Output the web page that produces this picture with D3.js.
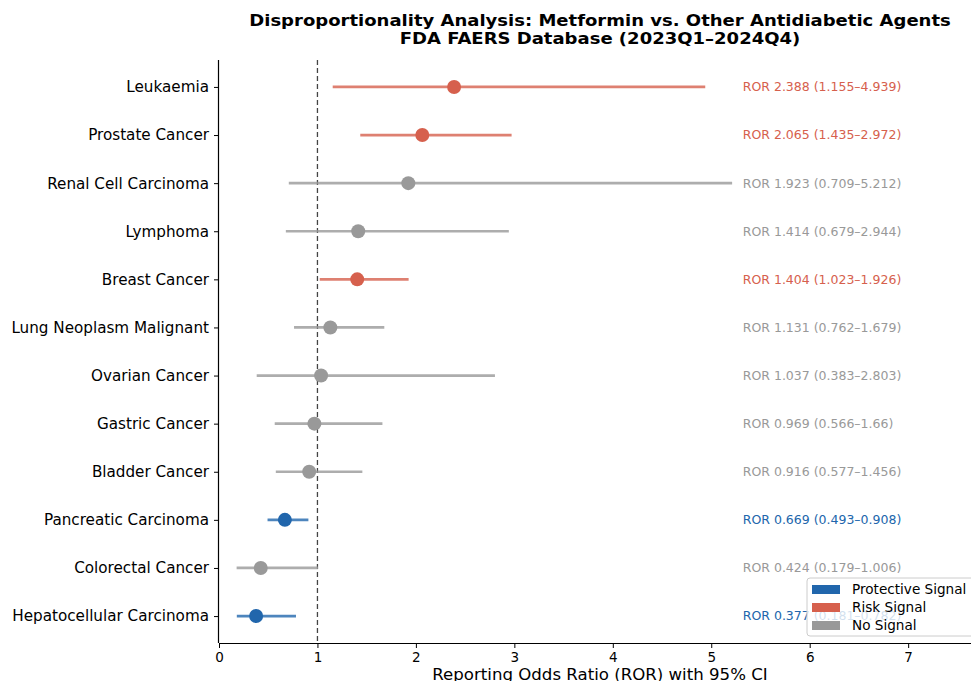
<!DOCTYPE html>
<html><head><meta charset="utf-8">
<script src="https://cdn.jsdelivr.net/npm/d3@7"></script>
<style>body{margin:0;background:#fff}svg{display:block;font-family:"DejaVu Sans",sans-serif}</style>
</head><body>
<svg id="c" width="971" height="681"></svg>
<script>
const categories = ["Leukaemia","Prostate Cancer","Renal Cell Carcinoma","Lymphoma","Breast Cancer","Lung Neoplasm Malignant","Ovarian Cancer","Gastric Cancer","Bladder Cancer","Pancreatic Carcinoma","Colorectal Cancer","Hepatocellular Carcinoma"];
const ror   = [2.388,2.065,1.923,1.414,1.404,1.131,1.037,0.969,0.916,0.669,0.424,0.377];
const lower = [1.155,1.435,0.709,0.679,1.023,0.762,0.383,0.566,0.577,0.493,0.179,0.181];
const upper = [4.939,2.972,5.212,2.944,1.926,1.679,2.803,1.66,1.456,0.908,1.006,0.782];
const upperLabels = ["4.939","2.972","5.212","2.944","1.926","1.679","2.803","1.66","1.456","0.908","1.006","0.782"];
const xTicks = [0,1,2,3,4,5,6,7];
const legendLabels = ["Protective Signal","Risk Signal","No Signal"];

const colors = {"Protective Signal":"#2166ac","Risk Signal":"#d6604d","No Signal":"#999999"};
function signal(i){ if(lower[i]>1) return "Risk Signal"; if(upper[i]<1) return "Protective Signal"; return "No Signal"; }

const svg = d3.select("#c");
const L=219, R=981, T=60, B=643;
const x = d3.scaleLinear().domain([0,7.74]).range([L,R]);
const y = d3.scaleLinear().domain([-0.56,11.56]).range([T,B]);

// title (horizontally stretched to match reference rendering)
const tg = svg.append("g");
const title = tg.append("text").attr("x",0).attr("text-anchor","middle").attr("font-weight","bold").attr("font-size",15.5).attr("fill","#000");
const t1 = title.append("tspan").attr("x",0).attr("y",26).text("Disproportionality Analysis: Metformin vs. Other Antidiabetic Agents");
title.append("tspan").attr("x",0).attr("y",44).text("FDA FAERS Database (2023Q1–2024Q4)");
const w1 = t1.node().getComputedTextLength();
const sx = w1 > 0 ? 702 / w1 : 1;
tg.attr("transform",`translate(600,0) scale(${sx},1)`);

// reference line
svg.append("line").attr("x1",x(1)).attr("x2",x(1)).attr("y1",T).attr("y2",B)
  .attr("stroke","#444").attr("stroke-width",1.3).attr("stroke-dasharray","5,3");

const g = svg.append("g");
categories.forEach((c,i)=>{
  const col = colors[signal(i)];
  g.append("line").attr("x1",x(lower[i])).attr("x2",x(upper[i])).attr("y1",y(i)).attr("y2",y(i))
    .attr("stroke",col).attr("stroke-opacity",0.8).attr("stroke-width",2.7);
  g.append("circle").attr("cx",x(ror[i])).attr("cy",y(i)).attr("r",7).attr("fill",col);
  g.append("text").attr("x",x(5.32)).attr("y",y(i)).attr("dy","0.35em").attr("font-size",12.5)
    .attr("fill",col).text(`ROR ${ror[i].toFixed(3)} (${lower[i].toFixed(3)}–${upperLabels[i]})`);
});

// axes
const xAxis = d3.axisBottom(x).tickValues(xTicks).tickFormat(d3.format("d")).tickSize(5).tickPadding(4);
const xg = svg.append("g").attr("transform",`translate(0,${B})`).call(xAxis);
xg.select(".domain").attr("d",`M${L},0.5H${R}`).attr("stroke","#000").attr("stroke-width",1.2);
xg.selectAll("text").attr("font-size",13.5).attr("font-family","DejaVu Sans").attr("fill","#000");

const yAxis = d3.axisLeft(y).tickValues(d3.range(categories.length)).tickFormat(i=>categories[i]).tickSize(5).tickPadding(5);
const yg = svg.append("g").attr("transform",`translate(${L},0)`).call(yAxis);
yg.select(".domain").attr("d",`M-0.5,${T}V${B}`).attr("stroke","#000").attr("stroke-width",1.2);
yg.selectAll("text").attr("font-size",15.2).attr("font-family","DejaVu Sans").attr("fill","#000");

svg.append("text").attr("x",600).attr("y",680).attr("text-anchor","middle").attr("font-size",16.6).attr("fill","#000")
  .text("Reporting Odds Ratio (ROR) with 95% CI");

// legend
const lg = svg.append("g");
lg.append("rect").attr("x",807).attr("y",578).attr("width",200).attr("height",58).attr("rx",3)
  .attr("fill","#fff").attr("fill-opacity",0.8).attr("stroke","#ccc");
legendLabels.forEach((lab,k)=>{
  const cy = 589 + k*18;
  lg.append("rect").attr("x",812).attr("y",cy-4).attr("width",28).attr("height",9).attr("fill",colors[lab]);
  lg.append("text").attr("x",852).attr("y",cy).attr("dy","0.35em").attr("font-size",13.6).attr("fill","#000").text(lab);
});
</script>
</body></html>
